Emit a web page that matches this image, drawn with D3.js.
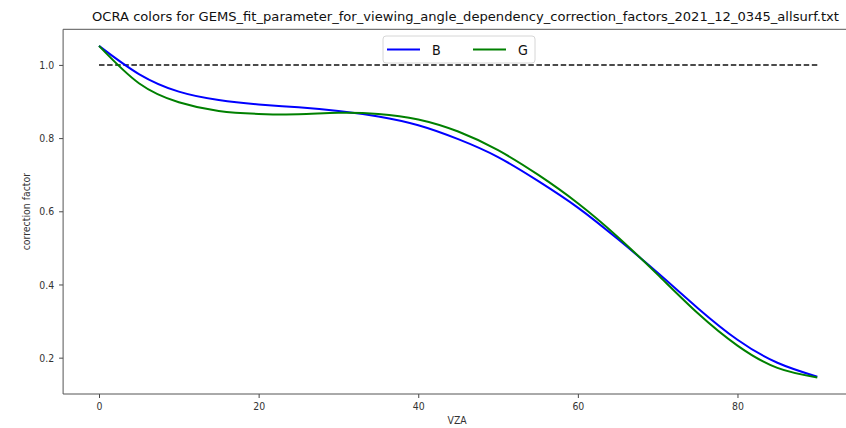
<!DOCTYPE html>
<html>
<head>
<meta charset="utf-8">
<script src="https://cdn.jsdelivr.net/npm/d3@7"></script>
<style>
  html, body { margin: 0; padding: 0; background: #fff; }
  svg { display: block; font-family: "DejaVu Sans", sans-serif; }
</style>
</head>
<body>
<svg id="chart" width="846" height="428"></svg>
<script>
// ---- data ----
const titleText = "OCRA colors for GEMS_fit_parameter_for_viewing_angle_dependency_correction_factors_2021_12_0345_allsurf.txt";
const xLabel = "VZA";
const yLabel = "correction factor";
const vza = [0, 5, 10, 15, 20, 25, 30, 35, 40, 45, 50, 55, 60, 65, 70, 75, 80, 85, 90];
const seriesB = [1.052, 0.975, 0.927, 0.904, 0.892, 0.884, 0.874, 0.859, 0.835, 0.797, 0.748, 0.683, 0.610, 0.524, 0.432, 0.336, 0.249, 0.186, 0.148];
const seriesG = [1.052, 0.950, 0.898, 0.874, 0.866, 0.865, 0.869, 0.866, 0.851, 0.818, 0.767, 0.700, 0.622, 0.530, 0.427, 0.322, 0.233, 0.172, 0.146];
const seriesNames = ["B", "G"];
const seriesColors = ["#0000ff", "#008000"];
const refLevel = 1.0;
const xTicks = [0, 20, 40, 60, 80];
const yTicks = [0.2, 0.4, 0.6, 0.8, 1.0];

// ---- layout ----
const svg = d3.select("#chart");
const pLeft = 63.1, pRight = 853.2, pTop = 29.3, pBottom = 394;

const xMin = d3.min(vza), xMax = d3.max(vza);
const xPad = (xMax - xMin) * 0.05;
const allY = seriesB.concat(seriesG, [refLevel]);
const yMin = d3.min(allY), yMax = d3.max(allY);
const yPad = (yMax - yMin) * 0.05;

const x = d3.scaleLinear().domain([xMin - xPad, xMax + xPad]).range([pLeft, pRight]);
const y = d3.scaleLinear().domain([yMin - yPad, yMax + yPad]).range([pBottom, pTop]);

function squeeze(sel, f) {
  sel.each(function () {
    const w = this.getComputedTextLength();
    d3.select(this).attr("textLength", w * f).attr("lengthAdjust", "spacingAndGlyphs");
  });
}

// dashed reference line
svg.append("line")
  .attr("x1", x(xMin)).attr("x2", x(xMax))
  .attr("y1", y(refLevel)).attr("y2", y(refLevel))
  .attr("stroke", "#111").attr("stroke-width", 1.5)
  .attr("stroke-dasharray", "5.5,2.6");

// series lines
const line = d3.line().x(d => x(d[0])).y(d => y(d[1])).curve(d3.curveNatural);
[seriesB, seriesG].forEach((s, i) => {
  svg.append("path")
    .datum(vza.map((v, j) => [v, s[j]]))
    .attr("fill", "none")
    .attr("stroke", seriesColors[i])
    .attr("stroke-width", 2)
    .attr("stroke-linejoin", "round")
    .attr("d", line);
});

// axes
const xAxis = svg.append("g").attr("transform", `translate(0,${pBottom})`)
  .call(d3.axisBottom(x).tickValues(xTicks).tickSize(4).tickPadding(4).tickFormat(d3.format("d")));
const yAxis = svg.append("g").attr("transform", `translate(${pLeft},0)`)
  .call(d3.axisLeft(y).tickValues(yTicks).tickSize(4).tickPadding(5).tickFormat(d3.format(".1f")));
[xAxis, yAxis].forEach(g => {
  g.select(".domain").remove();
  g.selectAll(".tick line").attr("stroke", "#333").attr("stroke-width", 0.9);
  g.selectAll(".tick text").attr("fill", "#333").style("font-size", "11px")
    .style("font-family", "DejaVu Sans, sans-serif");
});
squeeze(xAxis.selectAll(".tick text"), 0.85);
squeeze(yAxis.selectAll(".tick text"), 0.85);

// spines (left, bottom, top, right)
const spine = (x1, y1, x2, y2) => svg.append("line")
  .attr("x1", x1).attr("y1", y1).attr("x2", x2).attr("y2", y2)
  .attr("stroke", "#555").attr("stroke-width", 1);
spine(pLeft, pTop, pLeft, pBottom);
spine(pLeft, pBottom, pRight, pBottom);
spine(pLeft, pTop, pRight, pTop);
spine(pRight, pTop, pRight, pBottom);

// title and labels
const title = svg.append("text").attr("x", 465.5).attr("y", 21)
  .attr("text-anchor", "middle").style("font-size", "12.5px").attr("fill", "#111")
  .text(titleText);
title.attr("textLength", 747).attr("lengthAdjust", "spacingAndGlyphs");

const xl = svg.append("text").attr("x", (pLeft + pRight) / 2 - 1).attr("y", 424)
  .attr("text-anchor", "middle").style("font-size", "11px").attr("fill", "#333").text(xLabel);
squeeze(xl, 0.85);
const yl = svg.append("text")
  .attr("transform", `translate(30,${(pTop + pBottom) / 2}) rotate(-90)`)
  .attr("text-anchor", "middle").style("font-size", "11px").attr("fill", "#333").text(yLabel);
squeeze(yl, 0.85);

// legend
const lg = svg.append("g");
lg.append("rect").attr("x", 383).attr("y", 36).attr("width", 152).attr("height", 27)
  .attr("rx", 3).attr("fill", "#fff").attr("fill-opacity", 0.8)
  .attr("stroke", "#d6d6d6").attr("stroke-width", 1);
const itemX = [387, 473];
seriesNames.forEach((name, i) => {
  lg.append("line").attr("x1", itemX[i]).attr("x2", itemX[i] + 33)
    .attr("y1", 49.5).attr("y2", 49.5)
    .attr("stroke", seriesColors[i]).attr("stroke-width", 2);
  const t = lg.append("text").attr("x", itemX[i] + 45).attr("y", 55)
    .style("font-size", "14.5px").attr("fill", "#111").text(name);
  squeeze(t, 0.88);
});
</script>
</body>
</html>
